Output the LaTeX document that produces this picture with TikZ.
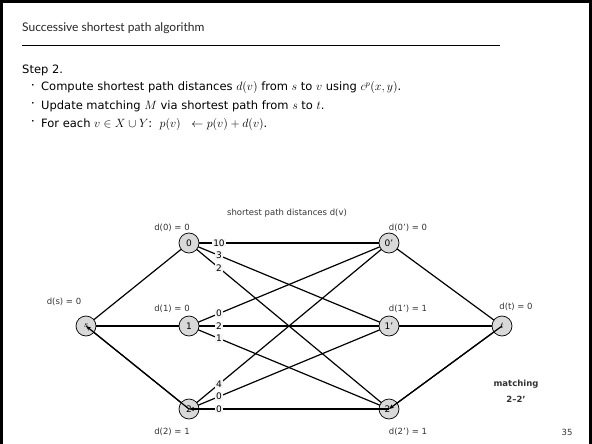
\documentclass[tikz,border=0pt]{standalone}
\usepackage{fontspec}
\setmainfont{DejaVu Sans}
\newfontfamily\titlefont{Lato}
\usetikzlibrary{arrows.meta}
\pgfdeclarelayer{bg}
\pgfsetlayers{bg,main}
\begin{document}
\begin{tikzpicture}[x=1pt,y=-1pt,
  vtx/.style={circle,draw=black,line width=0.7pt,fill=black!15,minimum size=20pt,inner sep=0pt,font=\fontsize{9}{10}\selectfont},
  edge/.style={line width=1.2pt},
  wlbl/.style={fill=black!4,inner sep=1pt,pos=0.15,font=\fontsize{9}{10}\selectfont},
  dlbl/.style={font=\fontsize{8.5}{10}\selectfont,text=black!80,inner sep=0pt},
  body/.style={anchor=west,font=\fontsize{11.5}{13}\selectfont,inner sep=0pt},
  bul/.style={font=\fontsize{6}{6}\selectfont,inner sep=0pt},
  tip/.style={-{Stealth[length=5pt,width=4pt]}}
]
\useasboundingbox (0,0) rectangle (592,444);
% frame
\fill[black] (0,0) rectangle (3,444);
\fill[black] (0,0) rectangle (592,3);
\fill[black] (589,0) rectangle (592,444);
% header
\node[anchor=west,inner sep=0pt,font=\titlefont\fontsize{12}{14}\selectfont,text=black!85] (title) at (22,28) {Successive shortest path algorithm};
\draw[line width=0.8pt] (22,45) -- (500,45);
\node[body] (step) at (22,70) {Step 2.};
\node[bul] (b1) at (33,86) {•};
\node[body] (l1) at (41,88) {Compute shortest path distances $d(v)$ from $s$ to $v$ using $c^p(x, y)$.};
\node[bul] (b2) at (33,104) {•};
\node[body] (l2) at (41,106) {Update matching $M$ via shortest path from $s$ to $t$.};
\node[bul] (b3) at (33,122) {•};
\node[body] (l3) at (41,124) {For each $v \in X \cup Y$:\ \ $p(v)\ \ \leftarrow p(v) + d(v)$.};
% vertices
\node[vtx] (s) at (86,326) {$s$};
\node[vtx] (x0) at (189,243) {0};
\node[vtx] (x1) at (189,326) {1};
\node[vtx] (x2) at (189,409) {2};
\node[vtx] (y0) at (389,243) {0'};
\node[vtx] (y1) at (389,326) {1'};
\node[vtx] (y2) at (389,409) {2'};
\node[vtx] (t) at (502,326) {$t$};
% edges
\begin{pgfonlayer}{bg}
\draw[edge] (s.center) -- (x0.center);
\draw[edge] (s.center) -- (x1.center);
\draw[edge] (s.center) -- (x2.center);
\draw[edge] (x0.center) -- (y0.center);
\draw[edge] (x0.center) -- (y1.center);
\draw[edge] (x0.center) -- (y2.center);
\draw[edge] (x1.center) -- (y0.center);
\draw[edge] (x1.center) -- (y1.center);
\draw[edge] (x1.center) -- (y2.center);
\draw[edge] (x2.center) -- (y0.center);
\draw[edge] (x2.center) -- (y1.center);
\draw[edge] (x2.center) -- (y2.center);
\draw[edge] (y0.center) -- (t.center);
\draw[edge] (y1.center) -- (t.center);
\draw[edge] (y2.center) -- (t.center);
\end{pgfonlayer}
% reversed matched path
\draw[edge,tip] (t.center) -- (y2.center);
\draw[edge,tip] (y2.center) -- (x2.center);
\draw[edge,tip] (x2.center) -- (s.center);
% edge labels
\path (x0.center) -- (y0.center) node[wlbl] (e00) {10};
\path (x0.center) -- (y1.center) node[wlbl] (e01) {3};
\path (x0.center) -- (y2.center) node[wlbl] (e02) {2};
\path (x1.center) -- (y0.center) node[wlbl] (e10) {0};
\path (x1.center) -- (y1.center) node[wlbl] (e11) {2};
\path (x1.center) -- (y2.center) node[wlbl] (e12) {1};
\path (x2.center) -- (y0.center) node[wlbl] (e20) {4};
\path (x2.center) -- (y1.center) node[wlbl] (e21) {0};
\path (x2.center) -- (y2.center) node[wlbl] (e22) {0};
% distance labels
\node[dlbl] (hdr) at (287,213) {shortest path distances d(v)};
\node[dlbl] (ds) at (64,302) {d(s) = 0};
\node[dlbl] (d0) at (172,228) {d(0) = 0};
\node[dlbl] (d1) at (172,309) {d(1) = 0};
\node[dlbl] (d2) at (172,432) {d(2) = 1};
\node[dlbl] (d0p) at (408,228) {d(0') = 0};
\node[dlbl] (d1p) at (408,309) {d(1') = 1};
\node[dlbl] (d2p) at (408,432) {d(2') = 1};
\node[dlbl] (dt) at (516,307) {d(t) = 0};
\node[dlbl,font=\bfseries\fontsize{8.5}{10}\selectfont] (m1) at (516,384) {matching};
\node[dlbl,font=\bfseries\fontsize{8.5}{10}\selectfont] (m2) at (516,399) {2–2'};
\node[dlbl] (pg) at (567,432) {35};
\end{tikzpicture}
\end{document}
